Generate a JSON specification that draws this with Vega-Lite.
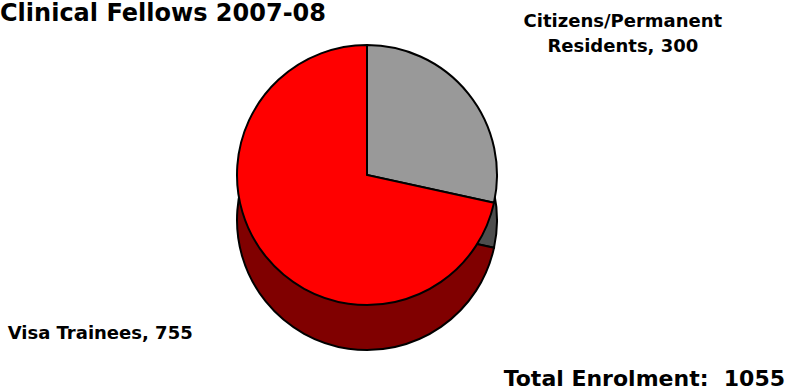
{
  "$schema": "https://vega.github.io/schema/vega-lite/v6.json",
  "autosize": {"type": "none"},
  "padding": {"left": 0, "top": 32, "right": 56, "bottom": 74},
  "width": 734,
  "height": 286,
  "background": "white",
  "title": {"text": "Clinical Fellows 2007-08", "anchor": "start", "font": "DejaVu Sans", "fontSize": 24, "fontWeight": "bold", "color": "black", "offset": -13},
  "data": {
    "values": [
      {"category": "Citizens/Permanent Residents", "value": 300},
      {"category": "Visa Trainees", "value": 755}
    ]
  },
  "layer": [
    {
      "mark": {"type": "arc", "outerRadius": 130, "y": {"expr": "height/2 + 45"}, "stroke": "black", "strokeWidth": 2},
      "encoding": {
        "theta": {"field": "value", "type": "quantitative", "stack": true},
        "order": {"field": "category", "sort": "ascending"},
        "color": {"field": "category", "type": "nominal", "scale": {"range": ["#4d4d4d", "#800000"]}, "legend": null}
      }
    },
    {
      "mark": {"type": "arc", "outerRadius": 130, "stroke": "black", "strokeWidth": 2},
      "encoding": {
        "theta": {"field": "value", "type": "quantitative", "stack": true},
        "order": {"field": "category", "sort": "ascending"},
        "color": {"field": "category", "type": "nominal", "scale": {"range": ["#999999", "#ff0000"]}, "legend": null}
      }
    },
    {
      "transform": [
        {"calculate": "replace(datum.category, 'Permanent ', 'Permanent\\n') + ', ' + datum.value", "as": "label"}
      ],
      "mark": {"type": "text", "radius": 200, "dx": 100, "dy": -28, "font": "DejaVu Sans", "fontSize": 18, "fontWeight": "bold", "color": "black", "lineBreak": "\n", "lineHeight": 25},
      "encoding": {
        "theta": {"field": "value", "type": "quantitative", "stack": true},
        "order": {"field": "category", "sort": "ascending"},
        "text": {"field": "label"},
        "opacity": {"condition": {"test": "datum.category === 'Visa Trainees'", "value": 0}, "value": 1}
      }
    },
    {
      "transform": [
        {"calculate": "datum.category + ', ' + datum.value", "as": "label"}
      ],
      "mark": {"type": "text", "radius": 200, "dx": -111, "dy": 34, "font": "DejaVu Sans", "fontSize": 18, "fontWeight": "bold", "color": "black"},
      "encoding": {
        "theta": {"field": "value", "type": "quantitative", "stack": true},
        "order": {"field": "category", "sort": "ascending"},
        "text": {"field": "label"},
        "opacity": {"condition": {"test": "datum.category === 'Visa Trainees'", "value": 1}, "value": 0}
      }
    },
    {
      "transform": [
        {"aggregate": [{"op": "sum", "field": "value", "as": "total"}]},
        {"calculate": "'Total Enrolment:\u00a0 ' + datum.total", "as": "label"}
      ],
      "mark": {"type": "text", "x": {"expr": "width + 51"}, "y": {"expr": "height + 68"}, "align": "right", "baseline": "alphabetic", "font": "DejaVu Sans", "fontSize": 22, "fontWeight": "bold", "color": "black"},
      "encoding": {
        "text": {"field": "label"}
      }
    }
  ],
  "resolve": {"scale": {"color": "independent", "theta": "shared"}},
  "config": {"view": {"stroke": null}}
}
